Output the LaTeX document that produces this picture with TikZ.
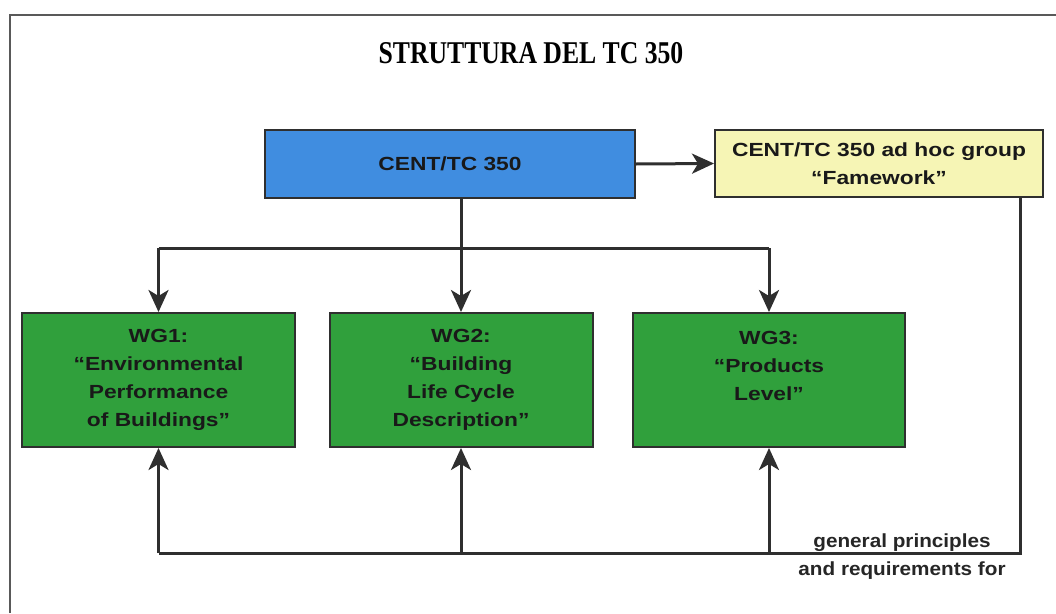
\documentclass[tikz,border=0pt]{standalone}
\usepackage{fontspec}
\setmainfont{Liberation Sans}
\newfontfamily\boxfont[FakeStretch=1.2,Ligatures=TeX]{Liberation Sans}
\newfontfamily\notefont[FakeStretch=1.09,Ligatures=TeX]{Liberation Sans}
\newfontfamily\titlefont[FakeStretch=0.81,Ligatures=TeX]{Liberation Serif}
\usetikzlibrary{arrows.meta}
\definecolor{tcblue}{HTML}{408DE0}
\definecolor{tcgreen}{HTML}{30A03C}
\definecolor{tcyellow}{HTML}{F6F5B5}
\definecolor{tcline}{HTML}{2F2F2F}
\tikzset{
  box/.style={draw=tcline, line width=2pt, align=center, inner sep=0pt,
              font=\boxfont\bfseries\fontsize{19}{28}\selectfont, text=black!90},
  wgbox/.style={box, fill=tcgreen, minimum height=134pt},
  link/.style={draw=tcline, line width=3pt},
  arr/.style={link, -{Stealth[length=22pt,width=20pt,inset=6pt]}},
  note/.style={font=\notefont\bfseries\fontsize{19}{22}\selectfont, text=black!85, anchor=base}
}
\begin{document}
\begin{tikzpicture}[x=1pt,y=-1pt]
\useasboundingbox (0,0) rectangle (1056,613);
\fill[white] (0,0) rectangle (1056,613);
\draw[black!65, line width=2pt] (10,613) -- (10,15) -- (1056,15);

\node[anchor=base] (title) at (531,63) {\titlefont\bfseries\fontsize{31.7}{34}\selectfont STRUTTURA DEL TC 350};

\node[box, fill=tcblue, minimum width=370pt, minimum height=68pt] (cent) at (450,164) {CENT/TC 350};
\node[box, fill=tcyellow, minimum width=328pt, minimum height=67pt] (fw) at (879,163.5)
      {CENT/TC 350 ad hoc group\\“Famework”};

\node[wgbox, minimum width=273pt] (wg1) at (158.5,380) {WG1:\\“Environmental\\Performance\\of Buildings”};
\node[wgbox, minimum width=263pt] (wg2) at (461,380) {WG2:\\“Building\\Life Cycle\\Description”};
\node[wgbox, minimum width=272pt] (wg3) at (769,380) {WG3:\\“Products\\Level”\\\mbox{}};

% top bus
\coordinate (bus) at (0,248);
\coordinate (ret) at (1020,553);
\draw[arr] (cent.east) -- (fw.west);
\draw[link] (cent.south -| wg2.north) -- (wg2.north |- bus);
\draw[link] (wg1.north |- bus) -- (wg3.north |- bus);
\foreach \w in {wg1,wg2,wg3}
  \draw[arr] (\w.north |- bus) -- (\w.north);

% feedback from the ad hoc group
\draw[link] (ret |- fw.south) -- (ret) -- (wg1.south |- ret);
\foreach \w in {wg1,wg2,wg3}
  \draw[arr] (\w.south |- ret) -- (\w.south);

\node[note] (gp) at (902,547) {general principles};
\node[note] (req) at (902,575) {and requirements for};
\end{tikzpicture}
\end{document}
